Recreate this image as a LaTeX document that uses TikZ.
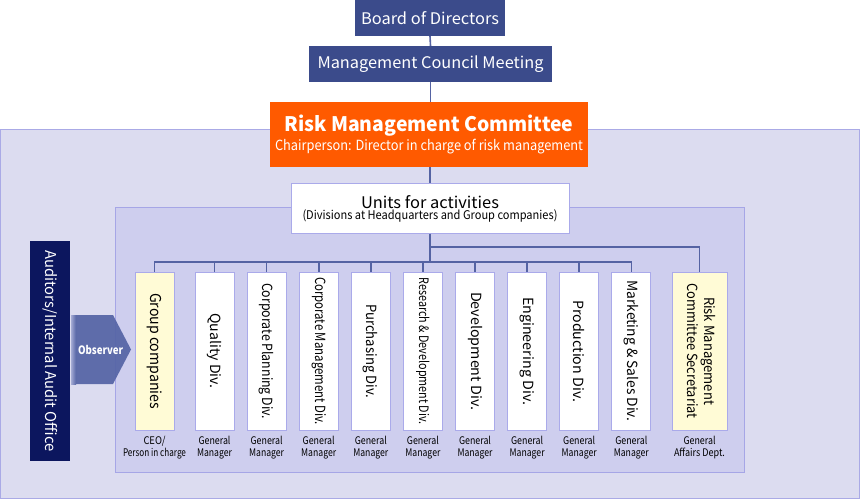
\documentclass[tikz,border=0pt]{standalone}
\usepackage{fontspec}
\setmainfont{Noto Sans CJK JP}
\usetikzlibrary{calc}
\definecolor{navy}{HTML}{3B4B8B}
\definecolor{deepnavy}{HTML}{0C165E}
\definecolor{rmcorange}{HTML}{FF5A00}
\definecolor{outerf}{HTML}{DCDCF0}
\definecolor{outerb}{HTML}{AAAAE6}
\definecolor{innerf}{HTML}{CECEEE}
\definecolor{innerb}{HTML}{A6A6E6}
\definecolor{boxb}{HTML}{AAAAEA}
\definecolor{ylw}{HTML}{FFFBD6}
\definecolor{connc}{HTML}{5563A3}
\definecolor{obsc}{HTML}{5463A5}
\definecolor{obsl}{HTML}{A4ABD4}
\newlength\fitlen
\newcommand\fitw[2]{\settowidth\fitlen{#2}\pgfmathsetmacro\fitsx{#1/\fitlen}\scalebox{\fitsx}[1]{#2}}
\begin{document}
\begin{tikzpicture}[x=1pt,y=-1pt,
  topbox/.style={fill=navy,text=white,inner sep=0,font=\fontsize{16}{18}\selectfont},
  colbox/.style={draw=boxb,line width=0.8pt,fill=white,minimum width=39,minimum height=158,inner sep=0,font=\fontsize{14}{17}\selectfont},
  ybox/.style={colbox,fill=ylw},
  lbl/.style={anchor=north,align=center,inner sep=0,font=\fontsize{10.5}{12}\selectfont},
  conn/.style={draw=connc,line width=1.6pt}]
\useasboundingbox (0,0) rectangle (860,500);
\fill[white] (0,0) rectangle (860,500);
\draw[draw=outerb,fill=outerf,line width=1pt] (0.5,130) rectangle (859.5,498.5);
\draw[draw=innerb,fill=innerf,line width=1pt] (115,208) rectangle (744,472);

\node[topbox,minimum width=150,minimum height=36] (board) at (430,18) {\fitw{138}{Board of Directors}};
\node[topbox,minimum width=243,minimum height=36] (mcm) at (430.5,64) {\fitw{226}{Management Council Meeting}};
\node[fill=rmcorange,text=white,minimum width=318,minimum height=65,inner sep=0,align=center] (rmc) at (429,134.5)
  {{\fontsize{20}{24}\selectfont\bfseries \fitw{289}{Risk Management Committee}}\\[2pt]{\fontsize{14}{16}\selectfont \fitw{308}{Chairperson: Director in charge of risk management}}};
\node[draw=boxb,line width=1pt,fill=white,minimum width=278,minimum height=49,inner sep=0,align=center] (units) at (430,208.5)
  {{\fontsize{16}{18}\selectfont \fitw{138}{Units for activities}}\\[-1pt]{\fontsize{12}{14}\selectfont \fitw{255}{(Divisions at Headquarters and Group companies)}}};

\node[fill=deepnavy,text=white,minimum width=40,minimum height=220,inner sep=0] (aud) at (50,351)
  {\rotatebox{-90}{\fontsize{15}{18}\selectfont \fitw{201}{Auditors/Internal Audit Office}}};

% observer arrow
\fill[obsc,opacity=0.92] (76,315) -- (113,315) -- (131,349.5) -- (113,384) -- (76,384) -- cycle;
\shade[left color=obsl,right color=obsc] (71,315) rectangle (76.2,384);
\node[text=white,inner sep=0,font=\fontsize{11.5}{13}\selectfont\bfseries] (obs) at (100.5,349.5) {\fitw{45}{Observer}};

\node[ybox,font=\fontsize{15}{17}\selectfont] (c1) at (154.5,351) {\rotatebox{-90}{\fitw{116}{Group companies}}};
\node[colbox] (c2) at (214.5,351) {\rotatebox{-90}{\fitw{75}{Quality Div.}}};
\node[colbox] (c3) at (266.6,351) {\rotatebox{-90}{\fitw{136}{Corporate Planning Div.}}};
\node[colbox] (c4) at (318.7,351) {\rotatebox{-90}{\fitw{148}{Corporate Management Div.}}};
\node[colbox] (c5) at (370.8,351) {\rotatebox{-90}{\fitw{94}{Purchasing Div.}}};
\node[colbox,font=\fontsize{13}{15}\selectfont] (c6) at (422.9,351) {\rotatebox{-90}{\fitw{147}{Research \& Development Div.}}};
\node[colbox] (c7) at (475,351) {\rotatebox{-90}{\fitw{118}{Development Div.}}};
\node[colbox] (c8) at (527.1,351) {\rotatebox{-90}{\fitw{108}{Engineering Div.}}};
\node[colbox] (c9) at (579.2,351) {\rotatebox{-90}{\fitw{102}{Production Div.}}};
\node[colbox] (c10) at (631.3,351) {\rotatebox{-90}{\fitw{141}{Marketing \& Sales Div.}}};
\node[ybox,minimum width=55] (c11) at (699.5,351) {\rotatebox{-90}{\begin{tabular}{@{}c@{}}\fitw{108}{Risk Management}\\\fitw{135}{Committee Secretariat}\end{tabular}}};

\node[lbl] (l1) at ($(c1.south)+(0,6)$) {\fitw{22}{CEO/}\\\fitw{63}{Person in charge}};
\foreach \i in {2,...,10} {\node[lbl] (l\i) at ($(c\i.south)+(0,6)$) {\fitw{32}{General}\\\fitw{35}{Manager}};}
\node[lbl] (l11) at ($(c11.south)+(0,6)$) {\fitw{32}{General}\\\fitw{51}{Affairs Dept.}};

\coordinate (busy) at (0,262);
\coordinate (secy) at (0,247);
\draw[conn] (board.south) -- (mcm.north);
\draw[conn] (mcm.south) -- (mcm.south |- rmc.north);
\draw[conn] (rmc.south -| units.north) -- (units.north);
\draw[conn] (units.south) -- (units.south |- busy);
\draw[conn] (c1.north) |- (c10.north |- busy) -- (c10.north);
\foreach \i in {2,...,9} {\draw[conn] (c\i.north) -- (c\i.north |- busy);}
\draw[conn] (units.south |- secy) -| (c11.north);
\end{tikzpicture}
\end{document}
